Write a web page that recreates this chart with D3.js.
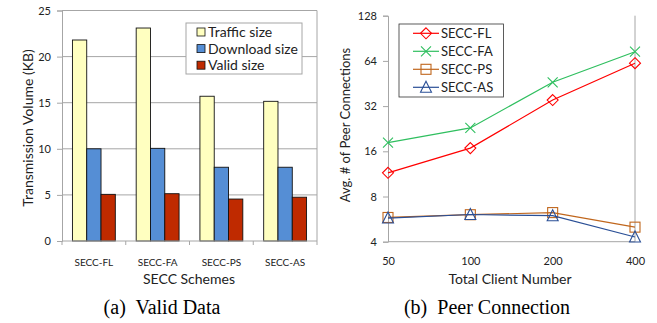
<!DOCTYPE html>
<html>
<head>
<meta charset="utf-8">
<script src="https://cdn.jsdelivr.net/npm/d3@7"></script>
<style>
  body { margin: 0; background: #fff; }
  svg { display: block; }
  text { font-family: Lato, "Open Sans", sans-serif; fill: #222; }
  .cap { font-family: "Liberation Serif", "Times New Roman", serif; fill: #000; }
</style>
</head>
<body>
<svg id="chart" width="657" height="323"></svg>
<script>
// (a) valid data
const schemes = ["SECC-FL", "SECC-FA", "SECC-PS", "SECC-AS"]
const sizeNames = ["Traffic size", "Download size", "Valid size"]
const trafficSize = [21.8, 23.1, 15.7, 15.15]
const downloadSize = [10.0, 10.05, 8.0, 8.0]
const validSize = [5.06, 5.13, 4.55, 4.75]
const volTicks = [0, 5, 10, 15, 20, 25]

// (b) peer connection
const clients = [50, 100, 200, 400]
const peerNames = ["SECC-FL", "SECC-FA", "SECC-PS", "SECC-AS"]
const peerFL = [11.5, 16.8, 35.1, 61.8]
const peerFA = [18.3, 22.9, 46.1, 73.7]
const peerPS = [5.8, 6.05, 6.25, 5.0]
const peerAS = [5.75, 6.07, 5.96, 4.3]
const peerTicks = [4, 8, 16, 32, 64, 128]

const svg = d3.select("#chart")
const grid = "#a6a6a6"

// ---------- left chart ----------
const barColors = ["#ffffc0", "#558ed5", "#bf2a00"]
const sizeData = [trafficSize, downloadSize, validSize]

let x0 = d3.scaleBand(schemes, [62, 317])
let x1 = d3.scaleBand(d3.range(3), [0, x0.bandwidth()]).paddingOuter(0.73)
let y = d3.scaleLinear([0, 25], [241, 10.5])

let left = svg.append("g")

left.append("g").selectAll("line")
    .data(volTicks.slice(1))
    .join("line")
    .attr("x1", 62).attr("x2", 317)
    .attr("y1", d => y(d)).attr("y2", d => y(d))
    .attr("stroke", grid)
left.append("line")
    .attr("x1", 317).attr("x2", 317).attr("y1", y(25)).attr("y2", y(0))
    .attr("stroke", grid)

let yAxis = left.append("g")
    .attr("transform", "translate(62,0)")
    .call(d3.axisLeft(y).tickValues(volTicks).tickSize(5).tickPadding(6))
yAxis.select(".domain").attr("stroke", grid)
yAxis.selectAll(".tick line").attr("stroke", grid)
yAxis.selectAll("text").attr("font-size", 11).attr("font-family", "Lato, sans-serif").attr("fill", "#222")

// bars
left.append("g").selectAll("g")
    .data(schemes)
    .join("g")
    .attr("transform", d => `translate(${x0(d)},0)`)
    .selectAll("rect")
    .data((d, i) => sizeData.map((s, k) => ({k, v: s[i]})))
    .join("rect")
    .attr("x", d => x1(d.k))
    .attr("width", x1.bandwidth())
    .attr("y", d => y(d.v))
    .attr("height", d => y(0) - y(d.v))
    .attr("fill", d => barColors[d.k])
    .attr("stroke", "#111")
    .attr("stroke-width", 0.9)

let xAxis = left.append("g")
    .attr("transform", `translate(0,${y(0)})`)
xAxis.append("line").attr("x1", 62).attr("x2", 317).attr("stroke", grid)
xAxis.selectAll(".tk")
    .data(d3.range(schemes.length + 1))
    .join("line")
    .attr("x1", i => 62 + i * x0.step()).attr("x2", i => 62 + i * x0.step())
    .attr("y1", 0).attr("y2", 4)
    .attr("stroke", grid)
xAxis.selectAll("text")
    .data(schemes)
    .join("text")
    .attr("x", d => x0(d) + x0.bandwidth() / 2)
    .attr("y", 25)
    .attr("text-anchor", "middle")
    .attr("font-size", 10)
    .text(d => d)

left.append("text")
    .attr("x", 189).attr("y", 284)
    .attr("text-anchor", "middle")
    .attr("font-size", 14)
    .text("SECC Schemes")
left.append("text")
    .attr("transform", "translate(33,128) rotate(-90)")
    .attr("text-anchor", "middle")
    .attr("font-size", 14)
    .text("Transmission Volume (KB)")

// legend
let lg = left.append("g")
lg.append("rect")
    .attr("x", 186).attr("y", 23).attr("width", 116).attr("height", 51)
    .attr("fill", "#fff").attr("stroke", grid)
lg.selectAll("g")
    .data(sizeNames)
    .join("g")
    .attr("transform", (d, i) => `translate(197,${32 + i * 16.6})`)
    .call(g => g.append("rect")
        .attr("x", 0).attr("y", -4).attr("width", 8).attr("height", 8)
        .attr("fill", (d, i) => barColors[i]).attr("stroke", "#111").attr("stroke-width", 0.8))
    .call(g => g.append("text")
        .attr("x", 11).attr("y", 5)
        .attr("font-size", 14)
        .text(d => d))

left.append("text").attr("class", "cap")
    .attr("x", 162).attr("y", 314)
    .attr("text-anchor", "middle")
    .attr("font-size", 20)
    .attr("xml:space", "preserve")
    .text("(a)  Valid Data")

// ---------- right chart ----------
const peerData = [peerFL, peerFA, peerPS, peerAS]
const peerColors = ["#ff0000", "#2fbf5f", "#c0661c", "#2a4f96"]
const markers = ["diamond", "cross", "square", "triangle"]

let px = d3.scalePoint(clients, [388, 635])
let py = d3.scaleLog([4, 128], [241.7, 15.7]).base(2)

let right = svg.append("g")
right.append("line")
    .attr("x1", 635).attr("x2", 635).attr("y1", py(128)).attr("y2", py(4))
    .attr("stroke", grid)

let pyAxis = right.append("g")
    .attr("transform", "translate(388,0)")
    .call(d3.axisLeft(py).tickValues(peerTicks).tickFormat(d3.format("d")).tickSize(5).tickPadding(6))
pyAxis.select(".domain").attr("stroke", grid)
pyAxis.selectAll(".tick line").attr("stroke", grid)
pyAxis.selectAll("text").attr("font-size", 11).attr("font-family", "Lato, sans-serif").attr("fill", "#222")

let pxAxis = right.append("g")
    .attr("transform", `translate(0,${py(4)})`)
    .call(d3.axisBottom(px).tickSize(0).tickPadding(16))
pxAxis.select(".domain").attr("stroke", grid).attr("d", `M388,0H635`)
pxAxis.selectAll("text").attr("font-size", 11).attr("font-family", "Lato, sans-serif").attr("fill", "#222")

function marker(g, type, color) {
    if (type === "diamond")
        g.append("path").attr("d", "M0,-5.5L5.5,0L0,5.5L-5.5,0Z")
    else if (type === "square")
        g.append("rect").attr("x", -5).attr("y", -5).attr("width", 10).attr("height", 10)
    else if (type === "triangle")
        g.append("path").attr("d", "M0,-6L5.5,5L-5.5,5Z")
    else
        g.append("path").attr("d", "M-5,-5L5,5M-5,5L5,-5")
    g.selectAll("*").attr("fill", "none").attr("stroke", color).attr("stroke-width", 1.1)
}

let line = d3.line().x((d, i) => px(clients[i])).y(d => py(d))

right.selectAll(".series")
    .data(peerData)
    .join("g")
    .each(function (vals, s) {
        let g = d3.select(this)
        g.append("path")
            .attr("d", line(vals))
            .attr("fill", "none")
            .attr("stroke", peerColors[s])
            .attr("stroke-width", 1.2)
        vals.forEach((v, i) => {
            marker(g.append("g").attr("transform", `translate(${px(clients[i])},${py(v)})`), markers[s], peerColors[s])
        })
    })

// legend
let plg = right.append("g")
plg.append("rect")
    .attr("x", 399).attr("y", 24).attr("width", 104.5).attr("height", 73)
    .attr("fill", "#fff").attr("stroke", "#333").attr("stroke-width", 0.8)
peerNames.forEach((name, i) => {
    let yy = 33.3 + i * 18
    plg.append("line").attr("x1", 413).attr("x2", 439).attr("y1", yy).attr("y2", yy)
        .attr("stroke", peerColors[i]).attr("stroke-width", 1.2)
    marker(plg.append("g").attr("transform", `translate(426,${yy})`), markers[i], peerColors[i])
    plg.append("text").attr("x", 441).attr("y", yy + 4.5)
        .attr("font-size", 13).text(name)
})

right.append("text")
    .attr("x", 510).attr("y", 284)
    .attr("text-anchor", "middle")
    .attr("font-size", 14)
    .text("Total Client Number")
right.append("text")
    .attr("transform", "translate(350,125) rotate(-90)")
    .attr("text-anchor", "middle")
    .attr("font-size", 13)
    .text("Avg. # of Peer Connections")

right.append("text").attr("class", "cap")
    .attr("x", 487).attr("y", 314)
    .attr("text-anchor", "middle")
    .attr("font-size", 20)
    .attr("xml:space", "preserve")
    .text("(b)  Peer Connection")
</script>
</body>
</html>
